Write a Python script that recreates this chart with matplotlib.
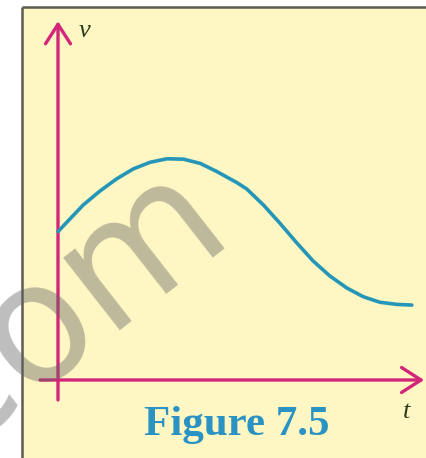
import matplotlib
matplotlib.use("Agg")
import matplotlib.pyplot as plt
from matplotlib.patches import Rectangle

# velocity-time curve (arbitrary units)
t = [0.0, 0.34, 0.72, 1.2, 1.68, 2.15, 2.63, 3.11, 3.58, 4.06, 4.53, 5.11,
     5.39, 5.87, 6.34, 6.82, 7.29, 7.77, 8.25, 8.72, 9.2, 9.68, 10.11]
v = [4.24, 4.6, 5.0, 5.4, 5.75, 6.03, 6.22, 6.32, 6.31, 6.19, 5.96, 5.64,
     5.46, 5.0, 4.48, 3.92, 3.4, 2.97, 2.63, 2.38, 2.22, 2.16, 2.14]

x_label = "t"
y_label = "v"
caption = "Figure 7.5"
watermark = "com"

axis_col = "#d3267a"
curve_col = "#2596b8"
bg_col = "#fef7c3"

fig = plt.figure(figsize=(4.27, 4.58), dpi=100)
ax = fig.add_axes([0, 0, 1, 1])
ax.set_xlim(-1.657, 10.543)
ax.set_ylim(-2.229, 10.857)
ax.axis("off")

# yellow panel, border only on left and top (image is cropped)
ax.add_patch(Rectangle((0.0515, -0.1), 1.2, 1.0847, transform=ax.transAxes,
                       facecolor=bg_col, edgecolor="none", zorder=0))
ax.plot([0.0515, 0.0515], [-0.1, 0.9847], transform=ax.transAxes,
        color="#5c5c52", lw=1.8, zorder=1, solid_capstyle="butt")
ax.plot([0.0515, 1.1], [0.9847, 0.9847], transform=ax.transAxes,
        color="#5c5c52", lw=1.8, zorder=1, solid_capstyle="butt")

# axes arrows
arrow = dict(arrowstyle="->,head_length=0.7,head_width=0.45", color=axis_col,
             lw=2.4, shrinkA=0, shrinkB=0, mutation_scale=20)
ax.annotate("", xy=(10.46, 0), xytext=(-0.51, 0), arrowprops=arrow, zorder=3)
ax.annotate("", xy=(0, 10.25), xytext=(0, -0.57), arrowprops=arrow, zorder=3)

ax.plot(t, v, color=curve_col, lw=2.6, solid_capstyle="round",
        solid_joinstyle="round", zorder=4)

ax.text(0.77, 9.97, y_label, fontsize=19, family="Liberation Serif",
        style="italic", color="#2b3b1f", ha="center", va="center")
ax.text(9.97, -0.91, x_label, fontsize=19, family="Liberation Serif",
        style="italic", color="#2b3b1f", ha="center", va="center")

ax.text(0.555, 0.072, caption, transform=ax.transAxes, fontsize=31,
        family="Liberation Serif", weight="bold", color="#2a93c4",
        ha="center", va="center")

# semi-transparent watermark
ax.text(0.1546, 0.332, watermark, transform=ax.transAxes, fontsize=120,
        family="DejaVu Sans", color="#646464", alpha=0.42, rotation=38,
        ha="center", va="center", rotation_mode="anchor", zorder=6)

fig.savefig("out.png", dpi=100)
